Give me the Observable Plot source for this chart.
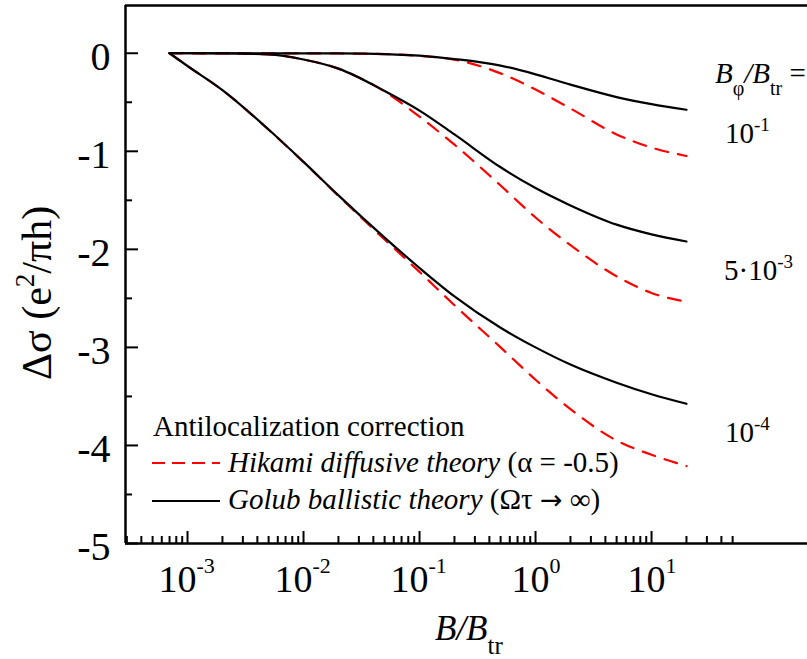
<!DOCTYPE html>
<html>
<head>
<meta charset="utf-8">
<script src="https://cdn.jsdelivr.net/npm/d3@7"></script>
<script src="https://cdn.jsdelivr.net/npm/@observablehq/plot@0.6"></script>
<style>
  html, body { margin: 0; padding: 0; background: #fff; }
</style>
</head>
<body>
<div id="chart"></div>
<script>
const SERIF = '"Liberation Serif", "Times New Roman", serif';
const SYMBOL = '"DejaVu Sans", sans-serif';

// Magnetic field in units of the transport field, B/B_tr
const fieldRatio = [7e-4, 1e-3, 2e-3, 5e-3, 0.01, 0.02, 0.05, 0.1, 0.2, 0.5, 1, 2, 5, 10, 20];

// Golub ballistic theory (solid), one series per B_phi/B_tr
const golubPhi1e1 = [0, 0, 0, 0, -0.001, -0.002, -0.008, -0.025, -0.059, -0.126, -0.215, -0.32, -0.447, -0.519, -0.576];
const golubPhi5e3 = [0, 0, -0.002, -0.012, -0.064, -0.157, -0.385, -0.585, -0.828, -1.163, -1.375, -1.552, -1.748, -1.847, -1.92];
const golubPhi1e4 = [0, -0.13, -0.376, -0.778, -1.108, -1.449, -1.88, -2.19, -2.48, -2.8, -3.0, -3.175, -3.36, -3.478, -3.575];

// Hikami diffusive theory, alpha = -0.5 (dashed)
const hikamiPhi1e1 = [0, 0, 0, 0, -0.001, -0.002, -0.008, -0.028, -0.065, -0.205, -0.37, -0.563, -0.828, -0.962, -1.048];
const hikamiPhi5e3 = [0, 0, -0.002, -0.012, -0.064, -0.157, -0.39, -0.647, -0.932, -1.349, -1.675, -1.957, -2.275, -2.445, -2.535];
const hikamiPhi1e4 = [0, -0.13, -0.376, -0.78, -1.11, -1.455, -1.9, -2.23, -2.57, -3.0, -3.33, -3.63, -3.95, -4.095, -4.21];

// Axis ticks
const xMajorTicks = [1e-3, 1e-2, 1e-1, 1, 10];
const xMinorTicks = [3e-4, 4e-4, 5e-4, 6e-4, 7e-4, 8e-4, 9e-4,
  2e-3, 3e-3, 4e-3, 5e-3, 6e-3, 7e-3, 8e-3, 9e-3,
  0.02, 0.03, 0.04, 0.05, 0.06, 0.07, 0.08, 0.09,
  0.2, 0.3, 0.4, 0.5, 0.6, 0.7, 0.8, 0.9,
  2, 3, 4, 5, 6, 7, 8, 9, 20, 30, 40, 50];
const yMajorTicks = [0, -1, -2, -3, -4, -5];
const yMinorTicks = [-0.5, -1.5, -2.5, -3.5, -4.5];

const xDomain = [2.92e-4, 221];
const yDomain = [-5, 0.487];

const W = 807, H = 659;
const M = {top: 5, right: 0, bottom: 116, left: 125};
const plotW = W - M.left - M.right;
const plotH = H - M.top - M.bottom;

const toRows = (values, phase) => fieldRatio.map((x, i) => ({x, y: values[i], phase}));
const golubRows = [
  ...toRows(golubPhi1e1, "1e-1"), ...toRows(golubPhi5e3, "5e-3"), ...toRows(golubPhi1e4, "1e-4")
];
const hikamiRows = [
  ...toRows(hikamiPhi1e1, "1e-1"), ...toRows(hikamiPhi5e3, "5e-3"), ...toRows(hikamiPhi1e4, "1e-4")
];

const expOf = d => String(Math.round(Math.log10(d)));
const negDecades = xMajorTicks.filter(d => d < 1);
const posDecades = xMajorTicks.filter(d => d >= 1);

const chart = Plot.plot({
  width: W, height: H,
  marginTop: M.top, marginRight: M.right, marginBottom: M.bottom, marginLeft: M.left,
  x: {type: "log", domain: xDomain, axis: null},
  y: {domain: yDomain, axis: null},
  style: {fontFamily: SERIF, background: "white", color: "black"},
  marks: [
    // inward ticks
    Plot.tickX(xMajorTicks, {x: d => d, insetTop: plotH - 12, stroke: "black", strokeWidth: 2}),
    Plot.tickX(xMinorTicks, {x: d => d, insetTop: plotH - 7, stroke: "black", strokeWidth: 2}),
    Plot.tickY(yMajorTicks, {y: d => d, insetRight: plotW - 13, stroke: "black", strokeWidth: 2}),
    Plot.tickY(yMinorTicks, {y: d => d, insetRight: plotW - 7, stroke: "black", strokeWidth: 2}),
    // frame: left, bottom, top
    Plot.ruleX([xDomain[0]], {stroke: "black", strokeWidth: 2.5}),
    Plot.ruleY([yDomain[0]], {stroke: "black", strokeWidth: 2.5}),
    Plot.ruleY([yDomain[1]], {stroke: "black", strokeWidth: 2.5}),
    // curves
    Plot.line(hikamiRows, {x: "x", y: "y", z: "phase", stroke: "#ff0000", strokeWidth: 2.2,
      strokeDasharray: "13,10", curve: "monotone-x"}),
    Plot.line(golubRows, {x: "x", y: "y", z: "phase", stroke: "black", strokeWidth: 2.2,
      curve: "monotone-x"}),
    // y tick labels
    Plot.text(yMajorTicks, {x: xDomain[0], y: d => d, text: d => String(d), textAnchor: "end",
      dx: -15, dy: 4, fontSize: 40, lineAnchor: "middle", fill: "black", fontFamily: SERIF}),
    // x tick labels: mantissa "10" and superscript exponent
    Plot.text(negDecades, {x: d => d, y: yDomain[0], text: () => "10", textAnchor: "end",
      dx: 9, dy: 48, fontSize: 38, lineAnchor: "bottom", fill: "black", fontFamily: SERIF}),
    Plot.text(negDecades, {x: d => d, y: yDomain[0], text: expOf, textAnchor: "start",
      dx: 9, dy: 29, fontSize: 22, lineAnchor: "bottom", fill: "black", fontFamily: SERIF}),
    Plot.text(posDecades, {x: d => d, y: yDomain[0], text: () => "10", textAnchor: "end",
      dx: 14, dy: 48, fontSize: 38, lineAnchor: "bottom", fill: "black", fontFamily: SERIF}),
    Plot.text(posDecades, {x: d => d, y: yDomain[0], text: expOf, textAnchor: "start",
      dx: 14, dy: 29, fontSize: 22, lineAnchor: "bottom", fill: "black", fontFamily: SERIF})
  ]
});

document.getElementById("chart").appendChild(chart);

// Titles, legend and curve annotations with sub/superscripts
const svg = d3.select(chart);
svg.selectAll("text").style("font-family", SERIF);
const ann = svg.append("g").attr("fill", "black").attr("text-anchor", "start")
  .style("font-family", SERIF);

function rich(g, x, y, size, parts, attrs = {}) {
  const t = g.append("text").attr("x", x).attr("y", y).attr("font-size", size)
    .attr("text-anchor", "start").style("font-family", SERIF);
  for (const [k, v] of Object.entries(attrs)) t.attr(k, v);
  for (const p of parts) {
    const s = t.append("tspan").text(p.t);
    if (p.italic) s.attr("font-style", "italic");
    if (p.size) s.attr("font-size", p.size);
    if (p.dy) s.attr("dy", p.dy);
    if (p.font) s.style("font-family", p.font);
  }
  return t;
}

// x-axis title
rich(ann, 435, 640, 35, [
  {t: "B/B", italic: true},
  {t: "tr", size: 25, dy: 14}
]);

// y-axis title
rich(ann, 0, 0, 42, [
  {t: "Δσ (e"},
  {t: "2", size: 27, dy: -17},
  {t: "/πh)", dy: 17}
], {transform: "translate(51,380) rotate(-90)"});

// legend
ann.append("text").attr("x", 153).attr("y", 436).attr("font-size", 29)
  .style("font-family", SERIF).text("Antilocalization correction");
ann.append("line").attr("x1", 152).attr("x2", 220).attr("y1", 463).attr("y2", 463)
  .attr("stroke", "#ff0000").attr("stroke-width", 2.2).attr("stroke-dasharray", "13,7");
ann.append("line").attr("x1", 152).attr("x2", 220).attr("y1", 501).attr("y2", 501)
  .attr("stroke", "black").attr("stroke-width", 2.2);
rich(ann, 228, 472, 29, [
  {t: "Hikami diffusive theory", italic: true},
  {t: " (α = -0.5)"}
]);
rich(ann, 228, 509, 29, [
  {t: "Golub ballistic theory", italic: true},
  {t: " (Ωτ "},
  {t: "→", font: SYMBOL, size: 27},
  {t: " ∞)"}
]);

// B_phi / B_tr annotations
rich(ann, 715, 83, 29, [
  {t: "B", italic: true},
  {t: "φ", size: 20, dy: 12},
  {t: "/", italic: true, dy: -12},
  {t: "B", italic: true},
  {t: "tr", size: 20, dy: 12},
  {t: " =", dy: -12}
]);
rich(ann, 725, 143, 29, [{t: "10"}, {t: "-1", size: 19, dy: -12}]);
rich(ann, 724, 280, 29, [{t: "5·10"}, {t: "-3", size: 19, dy: -12}]);
rich(ann, 725, 442, 29, [{t: "10"}, {t: "-4", size: 19, dy: -12}]);
</script>
</body>
</html>
